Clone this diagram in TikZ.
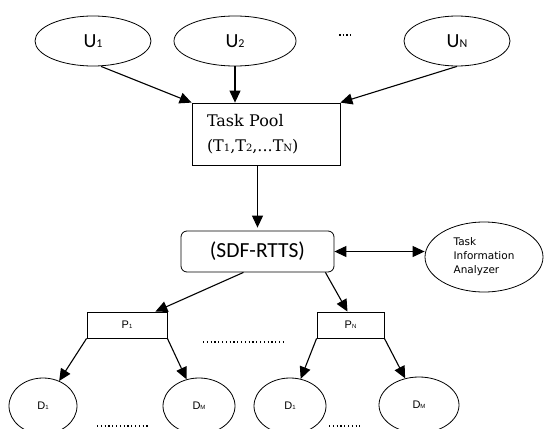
\documentclass[tikz,border=0pt]{standalone}
\usepackage{fontspec}
\setmainfont{Carlito}
\newfontfamily\poolfont{DejaVu Serif}
\newfontfamily\infofont{DejaVu Sans}
\newfontfamily\labelfont{Liberation Sans}
\usetikzlibrary{positioning,calc,shapes.geometric,arrows.meta}
\newcommand{\low}[2]{{\fontsize{#1}{#1}\selectfont #2}}

\begin{document}
\begin{tikzpicture}[x=1pt,y=-1pt,
    >={Triangle[length=12pt,width=11pt]},
    every edge/.append style={line width=1.1pt},
    user/.style={ellipse,draw,line width=0.8pt,inner sep=0pt,minimum height=50pt,
      font=\fontsize{20}{20}\selectfont},
    disk/.style={ellipse,draw,line width=0.8pt,inner sep=0pt,minimum height=56pt,
      font=\labelfont\fontsize{11}{11}\selectfont},
    proc/.style={rectangle,draw,line width=0.8pt,inner sep=0pt,minimum height=26pt,
      font=\labelfont\fontsize{11}{11}\selectfont},
    dots/.style={line width=1.1pt,dash pattern=on 1.2pt off 2.6pt}]
      \useasboundingbox (0,0) rectangle (545,428);

      \node (u1) [user,minimum width=116pt] at (93,41) {U\low{12}{1}};
      \node (u2) [user,minimum width=122pt] at (235,41) {U\low{12}{2}};
      \node (un) [user,minimum width=106pt] at (457,41) {U\low{12}{N}};
      \node (pool) [draw,line width=0.8pt,minimum width=148pt,minimum height=62pt,
        text width=118pt,align=left,
        font=\poolfont\fontsize{16}{25}\selectfont] at (266,134)
        {Task Pool\\(T\low{10}{1},T\low{10}{2},...T\low{10}{N})};
      \node (sdf) [draw,line width=0.8pt,rounded corners=6pt,minimum width=153pt,minimum height=41pt,
        font=\fontsize{21.5}{21.5}\selectfont] at (257.5,251.5) {(SDF-RTTS)};
      \node (tia) [ellipse,draw,line width=0.8pt,inner sep=0pt,minimum width=118pt,minimum height=70pt,
        align=left,font=\infofont\fontsize{10.5}{14}\selectfont] at (484,257)
        {Task\\Information\\Analyzer};
      \node (p1) [proc,minimum width=80pt] at (127,325) {P\low{6}{1}};
      \node (pn) [proc,minimum width=67pt] at (350.5,325) {P\low{6}{N}};
      \node (d11) [disk,minimum width=68pt] at (43,406) {D\low{6}{1}};
      \node (d1m) [disk,minimum width=72pt] at (199,406) {D\low{6}{M}};
      \node (dn1) [disk,minimum width=72pt] at (290,406) {D\low{6}{1}};
      \node (dnm) [disk,minimum width=80pt] at (419,405) {D\low{6}{M}};

      \path
        ([xshift=8pt]u1.south) edge[->] (pool.north west)
        (u2.south) edge[->] (u2.south |- pool.north)
        (un.south) edge[->] (pool.north east)
        (sdf.north |- pool.south) edge[->] ([yshift=3pt]sdf.north)
        (sdf.east) edge[<->] (tia.west |- sdf.east)
        ([xshift=-14pt]sdf.south) edge[->] ([xshift=-12pt]p1.north east)
        ([xshift=-9pt]sdf.south east) edge[->] ([xshift=-3pt]pn.north)
        (p1.south west) edge[->] (d11)
        (p1.south east) edge[->] (d1m)
        (pn.south west) edge[->] (dn1)
        (pn.south east) edge[->] (dnm);

      \draw[dots,line width=1.6pt,dash pattern=on 1.6pt off 2pt] (339,35) -- (352,35);
      \draw[dots] (203,342) -- (284,342);
      \draw[dots] (97,426) -- (150,426);
      \draw[dots] (329,426) -- (360,426);
    \end{tikzpicture}
\end{document}
